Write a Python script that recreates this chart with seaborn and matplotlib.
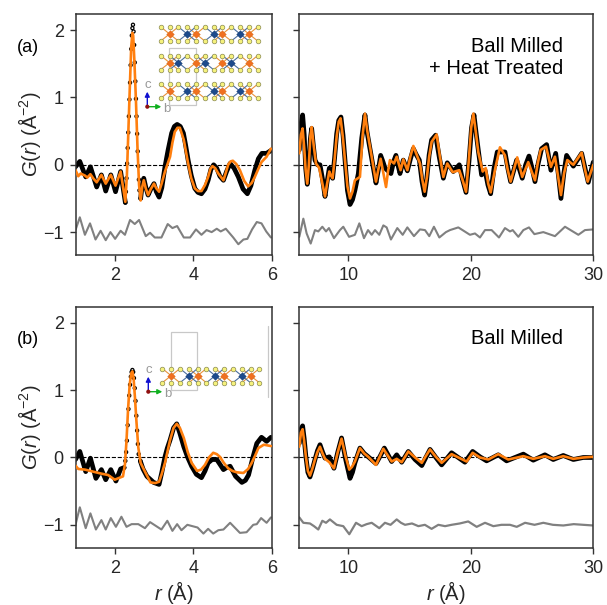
import seaborn as sns
import matplotlib.pyplot as plt
from matplotlib.patches import Rectangle

# values: (a) ball milled + heat treated
a_low_obs_r1 = [1.00, 1.11, 1.26, 1.38, 1.54, 1.66, 1.77, 1.90, 2.02, 2.15, 2.27]
a_low_obs_g1 = [-0.03, 0.05, -0.18, -0.03, -0.33, -0.15, -0.39, -0.15, -0.40, -0.10, -0.56]
a_peak_r = [2.27, 2.285, 2.30, 2.315, 2.33, 2.345, 2.36, 2.375, 2.39, 2.405, 2.42, 2.435, 2.45, 2.465, 2.48, 2.495, 2.51, 2.525, 2.54, 2.555, 2.57, 2.585, 2.60, 2.615, 2.63, 2.66]
a_peak_g = [-0.56, -0.40, -0.20, 0.02, 0.25, 0.48, 0.72, 0.97, 1.22, 1.48, 1.72, 1.92, 2.03, 2.08, 1.98, 1.78, 1.52, 1.24, 0.98, 0.72, 0.46, 0.20, -0.02, -0.22, -0.38, -0.50]
a_low_obs_r2 = [2.66, 2.70, 2.74, 2.79, 2.85, 2.92, 3.00, 3.06, 3.13, 3.20, 3.28, 3.36, 3.45, 3.52, 3.59, 3.67, 3.75, 3.81, 3.87, 3.95, 4.04, 4.12, 4.21, 4.30, 4.38, 4.45, 4.52, 4.60, 4.68, 4.77, 4.85, 4.94, 5.04, 5.15, 5.27, 5.38, 5.47, 5.57, 5.66, 5.75, 5.87, 6.00]
a_low_obs_g2 = [-0.50, -0.30, -0.20, -0.33, -0.45, -0.36, -0.28, -0.40, -0.48, -0.34, -0.03, 0.22, 0.47, 0.57, 0.60, 0.57, 0.47, 0.28, 0.07, -0.16, -0.35, -0.41, -0.43, -0.36, -0.23, -0.07, 0.00, -0.05, -0.17, -0.23, -0.10, 0.02, -0.05, -0.18, -0.36, -0.43, -0.31, -0.08, 0.09, 0.17, 0.17, 0.22]
a_low_fit_r = [1.00, 1.07, 1.13, 1.24, 1.30, 1.38, 1.45, 1.54, 1.66, 1.77, 1.90, 2.02, 2.15, 2.27, 2.31, 2.35, 2.39, 2.42, 2.45, 2.47, 2.50, 2.54, 2.58, 2.62, 2.66, 2.70, 2.74, 2.79, 2.85, 2.92, 3.00, 3.06, 3.13, 3.20, 3.28, 3.41, 3.47, 3.53, 3.60, 3.66, 3.76, 3.87, 3.95, 4.04, 4.12, 4.21, 4.30, 4.38, 4.44, 4.49, 4.56, 4.64, 4.77, 4.83, 4.89, 4.95, 5.01, 5.10, 5.19, 5.30, 5.40, 5.49, 5.57, 5.66, 5.74, 5.87, 5.98]
a_low_fit_g = [-0.08, -0.17, -0.13, -0.16, -0.19, -0.14, -0.20, -0.26, -0.15, -0.28, -0.15, -0.31, -0.10, -0.55, -0.15, 0.55, 1.25, 1.75, 1.96, 1.92, 1.55, 0.96, 0.25, -0.30, -0.53, -0.33, -0.23, -0.35, -0.45, -0.36, -0.28, -0.35, -0.40, -0.27, -0.10, 0.12, 0.33, 0.49, 0.55, 0.55, 0.37, 0.02, -0.20, -0.35, -0.39, -0.39, -0.30, -0.18, -0.06, -0.02, -0.05, -0.13, -0.23, -0.12, 0.00, 0.05, 0.06, 0.01, -0.08, -0.24, -0.32, -0.27, -0.18, -0.06, 0.04, 0.12, 0.24]
a_low_diff_r = [1.00, 1.11, 1.24, 1.37, 1.51, 1.64, 1.77, 1.89, 2.01, 2.15, 2.26, 2.39, 2.51, 2.62, 2.79, 2.90, 3.02, 3.19, 3.35, 3.47, 3.59, 3.76, 3.92, 4.07, 4.21, 4.34, 4.47, 4.60, 4.70, 4.83, 5.02, 5.15, 5.28, 5.38, 5.50, 5.62, 5.74, 5.86, 5.98]
a_low_diff_g = [-0.97, -0.78, -1.04, -0.87, -1.11, -0.98, -1.12, -1.00, -1.10, -0.98, -1.04, -0.82, -0.88, -0.82, -1.06, -1.01, -1.08, -1.08, -0.88, -0.94, -0.91, -1.08, -1.08, -0.96, -1.04, -0.97, -1.00, -0.95, -0.99, -0.95, -1.08, -1.18, -1.11, -1.10, -0.96, -0.85, -0.87, -0.99, -1.08]

a_high_obs_r = [6.00, 6.14, 6.27, 6.40, 6.52, 6.65, 6.78, 6.90, 7.01, 7.14, 7.28, 7.48, 7.69, 7.90, 8.10, 8.27, 8.45, 8.58, 8.72, 8.88, 9.05, 9.22, 9.40, 9.57, 9.73, 9.93, 10.14, 10.34, 10.54, 10.82, 11.10, 11.36, 11.52, 11.69, 11.98, 12.26, 12.45, 12.64, 12.82, 13.00, 13.48, 13.70, 13.89, 14.05, 14.22, 14.49, 14.82, 15.06, 15.31, 15.55, 15.80, 16.02, 16.23, 16.40, 16.60, 16.80, 17.13, 17.44, 17.76, 18.08, 18.57, 19.06, 19.30, 19.61, 19.85, 20.06, 20.26, 20.43, 20.61, 20.88, 21.16, 21.40, 21.62, 21.90, 22.16, 22.79, 23.02, 23.25, 23.74, 24.20, 24.48, 24.75, 25.00, 25.24, 25.50, 25.78, 26.19, 26.54, 26.93, 27.15, 27.36, 27.60, 27.82, 28.37, 29.05, 29.32, 29.59, 30.00]
a_high_obs_g = [0.22, 0.60, 0.74, 0.45, -0.05, -0.29, -0.05, 0.38, 0.54, 0.30, 0.07, 0.00, 0.00, -0.22, -0.47, -0.25, -0.05, -0.14, -0.20, 0.10, 0.46, 0.66, 0.71, 0.44, 0.07, -0.38, -0.59, -0.52, -0.38, -0.13, 0.40, 0.74, 0.50, 0.32, 0.02, -0.27, -0.08, 0.14, 0.05, -0.05, -0.13, 0.05, 0.14, 0.00, -0.13, 0.07, -0.09, 0.08, 0.24, 0.15, 0.07, -0.25, -0.45, -0.22, 0.15, 0.37, 0.44, 0.10, -0.20, 0.03, -0.10, 0.00, -0.20, -0.41, 0.05, 0.55, 0.74, 0.48, 0.22, -0.15, -0.08, -0.30, -0.43, -0.05, 0.19, 0.19, -0.05, -0.25, 0.07, -0.20, 0.00, 0.13, -0.05, -0.25, 0.02, 0.24, 0.30, -0.08, 0.17, -0.15, -0.50, -0.12, 0.14, -0.02, 0.17, -0.05, -0.26, 0.04]
a_high_fit_r = [6.00, 6.14, 6.27, 6.40, 6.52, 6.65, 6.78, 6.90, 7.01, 7.18, 7.36, 7.63, 7.85, 8.10, 8.27, 8.45, 8.58, 8.72, 8.88, 9.05, 9.22, 9.37, 9.55, 9.73, 9.93, 10.14, 10.34, 10.54, 10.95, 11.16, 11.36, 11.55, 11.77, 12.02, 12.26, 12.45, 12.64, 12.86, 13.08, 13.24, 13.40, 13.73, 13.95, 14.27, 14.49, 14.82, 15.06, 15.31, 15.58, 15.85, 16.04, 16.23, 16.42, 16.60, 16.80, 17.21, 17.48, 17.76, 18.08, 18.52, 19.06, 19.32, 19.61, 19.83, 20.03, 20.21, 20.40, 20.61, 20.97, 21.22, 21.42, 21.62, 22.00, 22.38, 22.79, 23.02, 23.25, 23.79, 24.20, 24.69, 24.97, 25.24, 25.46, 25.70, 26.14, 26.54, 26.87, 27.12, 27.36, 27.62, 27.88, 28.37, 29.05, 29.30, 29.54, 30.00]
a_high_fit_g = [0.17, 0.45, 0.54, 0.25, -0.08, -0.28, 0.00, 0.42, 0.56, 0.28, 0.02, -0.05, -0.25, -0.47, -0.28, -0.10, -0.16, -0.20, 0.08, 0.42, 0.64, 0.69, 0.42, 0.07, -0.32, -0.50, -0.40, -0.23, -0.18, 0.42, 0.76, 0.50, 0.27, 0.00, -0.25, -0.07, 0.09, -0.12, -0.33, -0.10, 0.07, 0.02, 0.12, -0.08, 0.08, -0.08, 0.12, 0.28, 0.15, 0.02, -0.22, -0.40, -0.18, 0.12, 0.34, 0.45, 0.12, -0.18, 0.02, -0.11, -0.08, -0.22, -0.40, 0.05, 0.55, 0.76, 0.50, 0.19, -0.10, -0.05, -0.28, -0.41, -0.05, 0.26, 0.14, -0.08, -0.25, 0.11, -0.18, 0.04, -0.10, -0.23, 0.02, 0.22, 0.27, -0.03, 0.12, -0.17, -0.45, -0.12, 0.07, 0.00, 0.18, -0.05, -0.25, 0.00]
a_high_diff_r = [6.00, 6.33, 6.60, 6.93, 7.28, 7.55, 7.88, 8.18, 8.42, 8.83, 9.32, 9.59, 10.06, 10.54, 10.90, 11.28, 11.61, 11.91, 12.18, 12.53, 12.86, 13.13, 13.48, 14.00, 14.44, 14.82, 15.36, 15.85, 16.26, 16.61, 16.99, 17.43, 17.97, 18.30, 18.98, 19.93, 20.34, 20.75, 21.16, 21.70, 22.30, 22.79, 23.20, 23.42, 23.88, 24.29, 24.75, 25.19, 25.92, 26.87, 27.69, 28.78, 29.32, 30.00]
a_high_diff_g = [-1.07, -0.80, -1.02, -1.17, -0.97, -0.99, -0.92, -0.99, -0.94, -1.09, -0.97, -0.92, -1.07, -1.04, -0.87, -1.09, -0.97, -1.04, -0.97, -1.04, -0.90, -0.93, -1.11, -0.94, -1.04, -0.93, -1.06, -0.96, -0.97, -1.06, -0.92, -1.08, -1.00, -0.97, -0.93, -1.04, -1.02, -1.08, -0.97, -0.97, -1.08, -0.94, -0.99, -0.97, -1.07, -0.97, -0.93, -1.03, -1.00, -1.06, -0.92, -1.04, -0.97, -0.96]

# (b) ball milled
b_low_obs_r1 = [1.00, 1.11, 1.26, 1.38, 1.52, 1.66, 1.77, 1.90, 2.03, 2.15, 2.24]
b_low_obs_g1 = [-0.03, 0.09, -0.21, -0.01, -0.31, -0.18, -0.33, -0.18, -0.35, -0.17, -0.15]
b_peak_r = [2.24, 2.27, 2.29, 2.31, 2.33, 2.35, 2.37, 2.39, 2.41, 2.43, 2.45, 2.47, 2.49, 2.51, 2.53, 2.55, 2.57, 2.59, 2.61, 2.65]
b_peak_g = [-0.15, -0.05, 0.08, 0.25, 0.48, 0.72, 0.92, 1.08, 1.20, 1.27, 1.30, 1.27, 1.18, 1.03, 0.84, 0.62, 0.40, 0.20, 0.05, -0.05]
b_low_obs_r2 = [2.65, 2.72, 2.82, 2.99, 3.13, 3.20, 3.28, 3.34, 3.41, 3.50, 3.58, 3.66, 3.76, 3.86, 3.96, 4.08, 4.21, 4.30, 4.38, 4.48, 4.60, 4.68, 4.77, 4.85, 4.94, 5.08, 5.24, 5.33, 5.41, 5.52, 5.62, 5.74, 5.87, 5.98]
b_low_obs_g2 = [-0.05, -0.17, -0.28, -0.37, -0.40, -0.22, 0.01, 0.14, 0.26, 0.44, 0.50, 0.36, 0.16, 0.00, -0.13, -0.25, -0.30, -0.20, -0.08, -0.03, -0.03, -0.10, -0.18, -0.15, -0.13, -0.28, -0.37, -0.34, -0.26, 0.00, 0.21, 0.30, 0.24, 0.30]
b_low_fit_r = [1.00, 1.07, 1.24, 1.45, 1.66, 1.83, 2.00, 2.21, 2.26, 2.30, 2.34, 2.38, 2.42, 2.45, 2.48, 2.52, 2.55, 2.60, 2.66, 2.77, 2.91, 3.03, 3.13, 3.20, 3.28, 3.41, 3.50, 3.58, 3.66, 3.76, 3.86, 3.96, 4.10, 4.20, 4.30, 4.40, 4.51, 4.60, 4.68, 4.78, 4.89, 5.00, 5.11, 5.28, 5.40, 5.49, 5.58, 5.66, 5.80, 5.98]
b_low_fit_g = [-0.12, -0.17, -0.18, -0.21, -0.24, -0.26, -0.33, -0.28, -0.10, 0.25, 0.72, 1.08, 1.25, 1.28, 1.18, 0.85, 0.56, 0.15, -0.08, -0.21, -0.37, -0.38, -0.36, -0.24, -0.08, 0.26, 0.44, 0.50, 0.44, 0.29, 0.08, -0.08, -0.20, -0.18, -0.11, 0.00, 0.07, 0.05, 0.01, -0.08, -0.16, -0.20, -0.22, -0.23, -0.17, -0.08, 0.03, 0.14, 0.19, 0.17]
b_low_diff_r = [1.00, 1.11, 1.26, 1.38, 1.52, 1.66, 1.77, 1.90, 2.03, 2.17, 2.30, 2.43, 2.60, 2.77, 2.90, 3.19, 3.34, 3.47, 3.59, 3.70, 3.85, 4.11, 4.26, 4.38, 4.51, 4.64, 4.77, 4.94, 5.19, 5.36, 5.53, 5.62, 5.73, 5.87, 5.98]
b_low_diff_g = [-1.00, -0.74, -1.05, -0.83, -1.07, -0.93, -1.07, -0.90, -1.03, -0.88, -1.03, -0.99, -0.99, -1.05, -0.96, -1.07, -0.94, -1.09, -0.99, -1.08, -1.00, -1.04, -1.13, -1.06, -1.13, -1.08, -1.07, -0.97, -1.12, -1.11, -1.00, -0.99, -0.90, -0.97, -0.89]

b_high_obs_r = [6.00, 6.14, 6.27, 6.40, 6.54, 6.70, 6.87, 7.06, 7.28, 7.48, 7.69, 7.90, 8.10, 8.45, 8.65, 8.83, 9.14, 9.45, 9.80, 10.14, 10.34, 10.54, 10.95, 11.30, 11.63, 12.26, 12.60, 12.94, 13.54, 13.95, 14.36, 14.90, 15.45, 16.00, 16.33, 16.67, 17.15, 17.62, 18.43, 19.52, 20.15, 20.75, 21.29, 22.24, 22.92, 24.29, 25.10, 26.05, 26.73, 27.55, 28.37, 29.18, 30.00]
b_high_obs_g = [0.21, 0.42, 0.47, 0.28, 0.01, -0.22, -0.29, -0.18, -0.03, 0.10, 0.19, 0.08, -0.01, 0.01, -0.08, -0.16, 0.08, 0.29, -0.04, -0.31, -0.22, -0.08, 0.14, 0.06, 0.01, -0.09, 0.02, 0.14, -0.06, 0.04, -0.07, 0.09, -0.03, -0.12, 0.00, 0.12, 0.00, -0.11, 0.07, -0.07, 0.09, 0.01, -0.05, 0.04, -0.05, 0.05, -0.04, 0.04, -0.03, 0.03, -0.03, 0.00, 0.00]
b_high_fit_r = [6.00, 6.14, 6.27, 6.40, 6.54, 6.70, 6.87, 7.06, 7.28, 7.48, 7.69, 7.90, 8.10, 8.45, 8.65, 8.83, 9.14, 9.45, 9.77, 10.08, 10.30, 10.54, 10.95, 11.30, 11.63, 12.26, 12.56, 12.86, 13.54, 13.95, 14.36, 14.90, 15.45, 16.00, 16.33, 16.67, 17.15, 17.62, 18.43, 19.66, 20.15, 20.75, 21.43, 22.24, 23.06, 24.29, 25.10, 26.05, 26.73, 27.55, 28.37, 29.18, 30.00]
b_high_fit_g = [0.16, 0.37, 0.42, 0.24, 0.01, -0.20, -0.27, -0.17, -0.03, 0.08, 0.16, 0.06, -0.02, -0.07, -0.12, -0.16, 0.08, 0.28, 0.02, -0.18, -0.14, -0.06, 0.14, 0.06, 0.01, -0.11, 0.01, 0.13, -0.06, -0.02, -0.07, 0.09, 0.00, -0.08, 0.02, 0.12, 0.01, -0.08, 0.05, -0.06, 0.07, 0.00, -0.03, 0.05, -0.03, 0.02, -0.02, 0.02, -0.02, 0.02, -0.02, 0.00, 0.01]
b_high_diff_r = [6.00, 6.33, 6.87, 7.20, 7.55, 7.88, 8.18, 8.50, 9.05, 9.59, 10.08, 10.63, 11.09, 11.50, 11.91, 12.53, 12.99, 13.45, 13.95, 14.30, 14.63, 15.20, 15.72, 16.25, 16.80, 17.35, 17.90, 18.43, 19.10, 19.79, 20.48, 21.16, 21.84, 22.50, 23.20, 23.75, 24.43, 25.20, 25.92, 26.70, 27.55, 28.40, 29.18, 30.00]
b_high_diff_g = [-0.89, -0.97, -0.98, -1.02, -1.07, -0.94, -0.97, -0.92, -1.00, -1.02, -1.14, -0.97, -1.02, -0.99, -0.97, -1.05, -0.97, -1.00, -0.92, -0.97, -1.00, -0.98, -1.02, -1.00, -1.06, -1.00, -1.02, -1.00, -0.98, -0.95, -1.03, -0.97, -1.02, -1.00, -1.00, -1.03, -0.97, -1.00, -0.97, -1.00, -1.01, -0.99, -1.00, -1.01]

W, H = 607, 605
ORANGE = "#ff7f0e"
SPINE = "#333333"


def curve(ax, r, g, color, lw, zorder):
    sns.lineplot(x=r, y=g, ax=ax, color=color, linewidth=lw, sort=False, estimator=None, zorder=zorder,
                 solid_joinstyle="round")


def dots(ax, r, g):
    sns.scatterplot(x=r, y=g, ax=ax, s=5, facecolor="none", edgecolor="black", linewidth=0.9, zorder=2)


def style_axes(ax, xlim, xticks, labelled):
    ax.set_xlim(*xlim)
    ax.set_ylim(-1.34, 2.24)
    ax.set_xticks(xticks)
    ax.set_yticks([-1, 0, 1, 2])
    ax.tick_params(length=4.5, width=1, color=SPINE, labelsize=13, labelleft=labelled, pad=4)
    for s in ax.spines.values():
        s.set_color(SPINE)
        s.set_linewidth(1.1)
    ax.set_xlabel("")
    ax.set_ylabel(r"$G(r)$ (Å$^{-2}$)" if labelled else "", fontsize=14.5, labelpad=0)


def layers(ov, rows, yellow_x0, orange_idx, blue_rows, cell, origin):
    # crystal structure inset, laid out in image pixels on the overlay axes
    for metal_y, blue_idx in zip(rows, blue_rows):
        yx, yy, ox, oy, bx, by = [], [], [], [], [], []
        for i in range(12):
            x = yellow_x0 + i * 8.82
            yx += [x, x]
            yy += [metal_y - 7.2, metal_y + 7.0]
            if i in orange_idx:
                ox.append(x)
                oy.append(metal_y)
            if i in blue_idx:
                bx.append(x)
                by.append(metal_y)
        for mx, c in [(ox, "#e8933a"), (bx, "#4a6fa0")]:
            for x in mx:
                for dx in (-8.82, 8.82):
                    for dy in (-7.2, 7.0):
                        ov.plot([x, x + dx], [metal_y, metal_y + dy], color=c, lw=0.8, zorder=5)
        sns.scatterplot(x=yx, y=yy, ax=ov, s=11, color="#f6f27c", edgecolor="#8a8a50", linewidth=0.5, zorder=6)
        sns.scatterplot(x=ox, y=oy, ax=ov, s=15, marker="D", color="#f07020", edgecolor="#d86414", linewidth=0.3, zorder=7)
        sns.scatterplot(x=bx, y=by, ax=ov, s=15, marker="D", color="#1c4a8c", edgecolor="#143a70", linewidth=0.3, zorder=7)
    x0, x1, y0, y1 = cell
    ov.add_patch(Rectangle((x0, y0), x1 - x0, y1 - y0, fill=False, edgecolor="#c8c8c8", linewidth=0.9, zorder=4))
    ox0, oy0 = origin
    ov.annotate("", xy=(ox0, oy0 - 15), xytext=(ox0, oy0), arrowprops=dict(arrowstyle="-|>", color="#1010d0", lw=1, mutation_scale=7, shrinkA=0, shrinkB=0))
    ov.annotate("", xy=(ox0 + 14, oy0), xytext=(ox0, oy0), arrowprops=dict(arrowstyle="-|>", color="#10b020", lw=1, mutation_scale=7, shrinkA=0, shrinkB=0))
    sns.scatterplot(x=[ox0], y=[oy0], ax=ov, s=9, color="#901010", edgecolor="none", zorder=8)
    ov.text(ox0 + 1, oy0 - 22, "c", color="#999999", fontsize=9.5, ha="center", va="center")
    ov.text(ox0 + 19, oy0 + 2, "b", color="#999999", fontsize=9.5, ha="center", va="center")


sns.set_theme(style="ticks")
plt.rcParams["font.family"] = ["Liberation Sans", "DejaVu Sans"]
plt.rcParams["mathtext.fontset"] = "custom"
plt.rcParams["mathtext.it"] = "Liberation Sans:italic"
plt.rcParams["mathtext.rm"] = "Liberation Sans"

fig = plt.figure(figsize=(W / 100, H / 100), dpi=100)


def make_axes(left, right, top, bottom):
    return fig.add_axes([left / W, 1 - bottom / H, (right - left) / W, (bottom - top) / H])


ax_a1 = make_axes(75.5, 271.7, 14, 255)
ax_a2 = make_axes(299.3, 593.3, 14, 255)
ax_b1 = make_axes(75.5, 271.7, 306.7, 547.7)
ax_b2 = make_axes(299.3, 593.3, 306.7, 547.7)

for ax in (ax_a1, ax_a2, ax_b1, ax_b2):
    ax.axhline(0, color="black", linestyle="--", linewidth=0.8, zorder=3)

curve(ax_a1, a_low_obs_r1, a_low_obs_g1, "black", 3.4, 2)
dots(ax_a1, a_peak_r, a_peak_g)
curve(ax_a1, a_low_obs_r2, a_low_obs_g2, "black", 3.4, 2)
curve(ax_a1, a_low_fit_r, a_low_fit_g, ORANGE, 1.9, 4)
curve(ax_a1, a_low_diff_r, a_low_diff_g, "gray", 1.5, 2)

curve(ax_a2, a_high_obs_r, a_high_obs_g, "black", 3.4, 2)
curve(ax_a2, a_high_fit_r, a_high_fit_g, ORANGE, 1.9, 4)
curve(ax_a2, a_high_diff_r, a_high_diff_g, "gray", 1.5, 2)

curve(ax_b1, b_low_obs_r1, b_low_obs_g1, "black", 3.4, 2)
dots(ax_b1, b_peak_r, b_peak_g)
curve(ax_b1, b_low_obs_r2, b_low_obs_g2, "black", 3.4, 2)
curve(ax_b1, b_low_fit_r, b_low_fit_g, ORANGE, 1.9, 4)
curve(ax_b1, b_low_diff_r, b_low_diff_g, "gray", 1.5, 2)

curve(ax_b2, b_high_obs_r, b_high_obs_g, "black", 3.4, 2)
curve(ax_b2, b_high_fit_r, b_high_fit_g, ORANGE, 1.9, 4)
curve(ax_b2, b_high_diff_r, b_high_diff_g, "gray", 1.6, 2)

style_axes(ax_a1, (1, 6), [2, 4, 6], True)
style_axes(ax_a2, (6, 30), [10, 20, 30], False)
style_axes(ax_b1, (1, 6), [2, 4, 6], True)
style_axes(ax_b2, (6, 30), [10, 20, 30], False)
for ax in (ax_b1, ax_b2):
    ax.set_xlabel(r"$r$ (Å)", fontsize=14.5, labelpad=2)

# overlay in image pixels for the structure insets and the panel texts
ov = fig.add_axes([0, 0, 1, 1], facecolor="none")
ov.set_xlim(0, W)
ov.set_ylim(H, 0)
ov.axis("off")

layers(ov, [34, 62.7, 91.3], 160.7, [1, 4, 7, 10], [[3, 6, 9], [2, 5, 8], [3, 6, 9]], (169.3, 196, 48.3, 105), (147.3, 106.7))
layers(ov, [375.7], 162.3, [1, 4, 7, 10], [[3, 6, 9]], (170.7, 197.3, 332, 390.3), (148.3, 391.7))
ov.plot([267.7, 267.7], [326, 396.7], color="#c8c8c8", lw=0.9)
ov.set_xlim(0, W)
ov.set_ylim(H, 0)

ov.text(17, 47, "(a)", fontsize=13, va="center", ha="left", color="black")
ov.text(17, 340, "(b)", fontsize=13, va="center", ha="left", color="black")
ov.text(563, 46, "Ball Milled", fontsize=14.5, va="center", ha="right", color="black")
ov.text(563, 68, "+ Heat Treated", fontsize=14.5, va="center", ha="right", color="black")
ov.text(563, 339, "Ball Milled", fontsize=14.5, va="center", ha="right", color="black")

fig.savefig("out.png", dpi=100)
